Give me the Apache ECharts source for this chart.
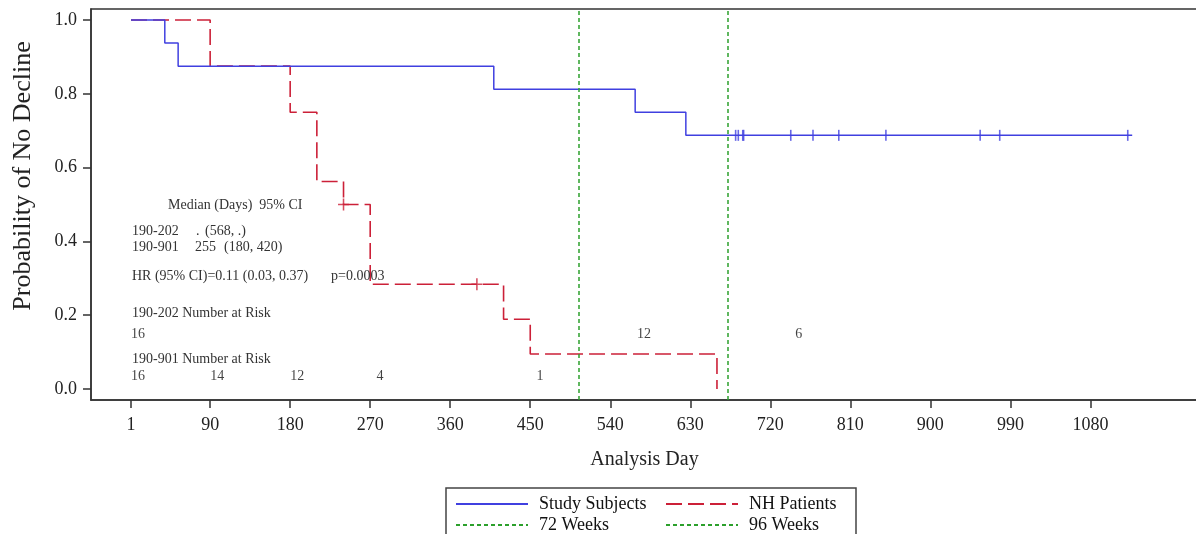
<!DOCTYPE html>
<html><head><meta charset="utf-8">
<script src="https://cdn.jsdelivr.net/npm/echarts@6/dist/echarts.min.js"></script>
<style>html,body{margin:0;padding:0;background:#fff}#c{width:1196px;height:534px}</style>
</head><body><div id="c"></div>
<script>
// ---- data ----
const studyDays = [1, 39, 54, 409, 568, 625, 1127];
const studySurv = [1, 0.9375, 0.875, 0.8125, 0.75, 0.6875, 0.6875];
const nhDays = [1, 90, 180, 210, 240, 270, 420, 450, 660];
const nhSurv = [1, 0.875, 0.75, 0.5625, 0.5, 0.2837, 0.1891, 0.0946, 0];
const studyCensorDays = [681, 684, 689, 690, 743, 768, 797, 850, 956, 978, 1122];
const nhCensorDays = [240, 390];
const week72Day = 504;
const week96Day = 672;
const xTickValues = [1, 90, 180, 270, 360, 450, 540, 630, 720, 810, 900, 990, 1080];
const yTickValues = [0, 0.2, 0.4, 0.6, 0.8, 1.0];
const riskDays202 = [1, 570, 748];
const riskCounts202 = [16, 12, 6];
const riskDays901 = [1, 90, 180, 277, 457];
const riskCounts901 = [16, 14, 12, 4, 1];
const seriesNames = ['Study Subjects', 'NH Patients', '72 Weeks', '96 Weeks'];

// ---- helpers ----
function survAt(days, vals, t) {
  let v = vals[0];
  for (let i = 0; i < days.length; i++) { if (days[i] <= t) v = vals[i]; }
  return v;
}
const SERIF = '"Liberation Serif", "DejaVu Serif", serif';
const BLUE = '#4040e0', RED = '#cc2038', GREEN = '#2ca02c';
const RISK_ROW1 = 0.147, RISK_ROW2 = 0.035;

const chart = echarts.init(document.getElementById('c'), null, {renderer: 'canvas'});

function riskSeries(days, counts, yRow) {
  return {
    type: 'scatter', silent: true, z: 10,
    data: days.map((d, i) => [d, yRow, counts[i]]),
    symbolSize: 0,
    label: {show: true, position: 'right', distance: 0, formatter: p => String(p.value[2]),
      fontFamily: SERIF, fontSize: 14, color: '#111'}
  };
}

function txt(text, x, y, size, color) {
  return {type: 'text', x: x, y: y, z: 20, silent: true,
    style: {text: text, fontFamily: SERIF, fontSize: size || 14, fill: color || '#333',
      align: 'left', verticalAlign: 'middle'}};
}

function legendItem(name, left, top) {
  return {data: [name], left: left, top: top, orient: 'horizontal', padding: 0,
    itemWidth: 72, itemHeight: 17, selectedMode: false,
    itemStyle: {opacity: 0},
    textStyle: {fontFamily: SERIF, fontSize: 18, color: '#111', padding: [0, 0, 0, 6]}};
}

const option = {
  backgroundColor: '#fff',
  animation: false,
  grid: {left: 91, right: -2, top: 9, bottom: 134, outerBoundsMode: 'none',
    show: true, borderColor: '#333', borderWidth: 1.5},
  xAxis: {
    type: 'value', min: -44, max: 1201,
    name: 'Analysis Day', nameLocation: 'middle', nameGap: 50,
    nameTextStyle: {fontFamily: SERIF, fontSize: 20, color: '#222'},
    axisLine: {onZero: false, lineStyle: {color: '#333', width: 1.5}},
    axisTick: {show: true, length: 8, customValues: xTickValues, lineStyle: {color: '#333', width: 1.5}},
    axisLabel: {customValues: xTickValues, margin: 16, formatter: v => String(v),
      fontFamily: SERIF, fontSize: 18, color: '#222'},
    splitLine: {show: false}
  },
  yAxis: {
    type: 'value', min: -0.03, max: 1.03,
    axisLine: {show: true, onZero: false, lineStyle: {color: '#333', width: 1.5}},
    axisTick: {show: true, length: 8, customValues: yTickValues, lineStyle: {color: '#333', width: 1.5}},
    axisLabel: {customValues: yTickValues, margin: 14, formatter: v => v.toFixed(1),
      fontFamily: SERIF, fontSize: 18, color: '#222'},
    splitLine: {show: false}
  },
  legend: [
    legendItem(seriesNames[0], 455, 495),
    legendItem(seriesNames[2], 455, 516),
    legendItem(seriesNames[1], 665, 495),
    legendItem(seriesNames[3], 665, 516)
  ],
  graphic: [
    {type: 'rect', silent: true, shape: {x: 446, y: 488, width: 410, height: 60},
      style: {fill: 'none', stroke: '#444', lineWidth: 1.5}},
    {type: 'text', x: 23, y: 176, rotation: Math.PI / 2, silent: true,
      style: {text: 'Probability of No Decline', fontFamily: SERIF, fontSize: 26, fill: '#222',
        align: 'center', verticalAlign: 'middle'}},
    txt('Median (Days)  95% CI', 168, 205),
    txt('190-202', 132, 231), txt('.', 196, 231), txt('(568, .)', 205, 231),
    txt('190-901', 132, 247), txt('255', 195, 247), txt('(180, 420)', 224, 247),
    txt('HR (95% CI)=0.11 (0.03, 0.37)', 132, 276), txt('p=0.0003', 331, 276),
    txt('190-202 Number at Risk', 132, 313),
    txt('190-901 Number at Risk', 132, 359)
  ],
  series: [
    {name: seriesNames[2], type: 'line', data: [], symbol: 'none',
      lineStyle: {color: GREEN, type: [4, 3], width: 1.5}, itemStyle: {color: GREEN},
      markLine: {silent: true, symbol: 'none', label: {show: false},
        lineStyle: {color: GREEN, type: [4, 3], width: 1.5}, data: [{xAxis: week72Day}]}},
    {name: seriesNames[3], type: 'line', data: [], symbol: 'none',
      lineStyle: {color: GREEN, type: [4, 3], width: 1.5}, itemStyle: {color: GREEN},
      markLine: {silent: true, symbol: 'none', label: {show: false},
        lineStyle: {color: GREEN, type: [4, 3], width: 1.5}, data: [{xAxis: week96Day}]}},
    {name: seriesNames[1], type: 'line', step: 'end', symbol: 'none', z: 3,
      data: nhDays.map((d, i) => [d, nhSurv[i]]),
      lineStyle: {color: RED, type: [16, 6], width: 1.6}, itemStyle: {color: RED}},
    {name: seriesNames[0], type: 'line', step: 'end', symbol: 'none', z: 4,
      data: studyDays.map((d, i) => [d, studySurv[i]]),
      lineStyle: {color: BLUE, width: 1.5}, itemStyle: {color: BLUE}},
    {type: 'scatter', silent: true, z: 5,
      data: studyCensorDays.map(d => [d, survAt(studyDays, studySurv, d)]),
      symbol: 'rect', symbolSize: [1.6, 11], itemStyle: {color: BLUE}},
    {type: 'scatter', silent: true, z: 5,
      data: nhCensorDays.map(d => [d, survAt(nhDays, nhSurv, d)]),
      symbol: 'path://M4.3,0h1.4v12h-1.4zM0,5.3h10v1.4h-10z', symbolSize: [11, 12],
      itemStyle: {color: RED}},
    riskSeries(riskDays202, riskCounts202, RISK_ROW1),
    riskSeries(riskDays901, riskCounts901, RISK_ROW2)
  ]
};
chart.setOption(option);
</script>
</body></html>
